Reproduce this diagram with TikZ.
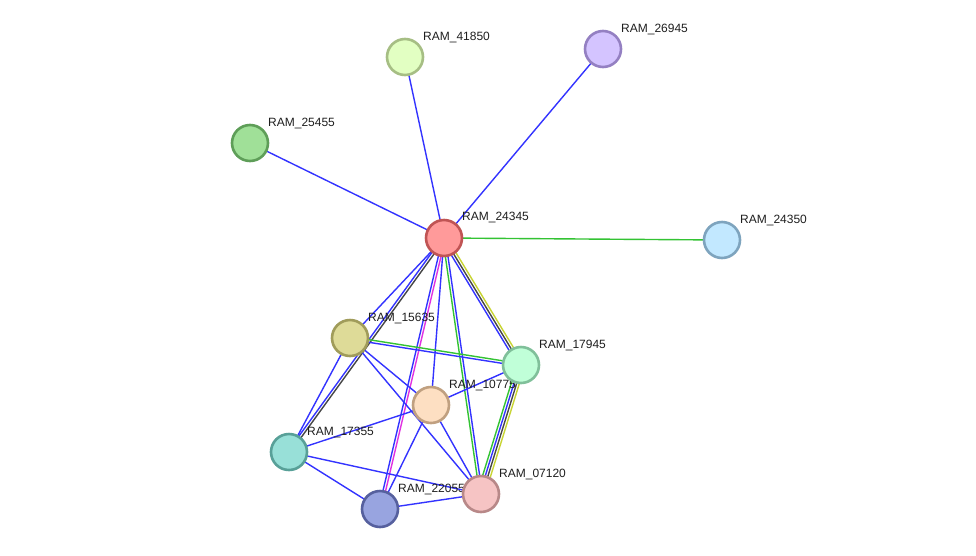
\documentclass[tikz,border=0pt]{standalone}
\usepackage{fontspec}
\setmainfont{Liberation Sans}
\usetikzlibrary{calc}
\pgfdeclarelayer{paper}
\pgfdeclarelayer{background}
\pgfdeclarelayer{labels}
\pgfsetlayers{paper,background,labels,main}
\definecolor{eblue}{RGB}{51,51,255}
\definecolor{egreen}{RGB}{51,195,51}
\definecolor{edark}{RGB}{70,70,70}
\definecolor{eyellow}{RGB}{200,212,50}
\definecolor{emag}{RGB}{225,50,225}
\definecolor{f24345}{HTML}{FF9A9A}\definecolor{b24345}{HTML}{C05454}
\definecolor{f41850}{HTML}{E2FFC2}\definecolor{b41850}{HTML}{A6BE84}
\definecolor{f26945}{HTML}{D4C4FF}\definecolor{b26945}{HTML}{9480C2}
\definecolor{f25455}{HTML}{A0E098}\definecolor{b25455}{HTML}{5E9E58}
\definecolor{f24350}{HTML}{C2E8FF}\definecolor{b24350}{HTML}{7EA4BE}
\definecolor{f15635}{HTML}{DEDB98}\definecolor{b15635}{HTML}{A09C5A}
\definecolor{f17945}{HTML}{C0FFD8}\definecolor{b17945}{HTML}{80C09A}
\definecolor{f10775}{HTML}{FDDFC2}\definecolor{b10775}{HTML}{C0A080}
\definecolor{f17355}{HTML}{98E0D8}\definecolor{b17355}{HTML}{58A098}
\definecolor{f22055}{HTML}{98A4E0}\definecolor{b22055}{HTML}{56609E}
\definecolor{f07120}{HTML}{F6C4C4}\definecolor{b07120}{HTML}{B88888}
\newcommand\edg[4]{\draw[#3] ($(#1)!#4!90:(#2)$) -- ($(#2)!#4!-90:(#1)$);}
\tikzset{
  prot/.style={circle, minimum size=36, inner sep=0, line width=2.6},
  lbl/.style={anchor=base west, inner sep=0, text=black!88, font=\fontsize{12}{14}\selectfont},
  edge/.style={line width=1.4}
}
\begin{document}
\begin{tikzpicture}[x=1pt,y=-1pt]
\begin{pgfonlayer}{paper}
\fill[white] (0,0) rectangle (976,555);
\end{pgfonlayer}
\useasboundingbox (0,0) rectangle (976,555);
% proteins
\node[prot, fill=f24345, draw=b24345] (p24345) at (444,238) {};
\node[prot, fill=f41850, draw=b41850] (p41850) at (405,57) {};
\node[prot, fill=f26945, draw=b26945] (p26945) at (603,49) {};
\node[prot, fill=f25455, draw=b25455] (p25455) at (250,143) {};
\node[prot, fill=f24350, draw=b24350] (p24350) at (722,240) {};
\node[prot, fill=f15635, draw=b15635] (p15635) at (350,338) {};
\node[prot, fill=f17945, draw=b17945] (p17945) at (521,365) {};
\node[prot, fill=f10775, draw=b10775] (p10775) at (431,405) {};
\node[prot, fill=f17355, draw=b17355] (p17355) at (289,452) {};
\node[prot, fill=f22055, draw=b22055] (p22055) at (380,509) {};
\node[prot, fill=f07120, draw=b07120] (p07120) at (481,494) {};
% labels
\begin{pgfonlayer}{labels}
\node[lbl] (l24345) at (462,220.5) {RAM\_24345};
\node[lbl] (l41850) at (423,40) {RAM\_41850};
\node[lbl] (l26945) at (621,32) {RAM\_26945};
\node[lbl] (l25455) at (268,126) {RAM\_25455};
\node[lbl] (l24350) at (740,223) {RAM\_24350};
\node[lbl] (l15635) at (368,321) {RAM\_15635};
\node[lbl] (l17945) at (539,348) {RAM\_17945};
\node[lbl] (l10775) at (449,388) {RAM\_10775};
\node[lbl] (l17355) at (307,435) {RAM\_17355};
\node[lbl] (l22055) at (398,492) {RAM\_22055};
\node[lbl] (l07120) at (499,477) {RAM\_07120};
\end{pgfonlayer}
% edges
\begin{pgfonlayer}{background}
\tikzset{every path/.style={edge}}
\edg{p24345}{p41850}{eblue}{0pt}
\edg{p24345}{p26945}{eblue}{0pt}
\edg{p24345}{p25455}{eblue}{0pt}
\edg{p24345}{p24350}{egreen}{0pt}
\edg{p24345}{p15635}{eblue}{0pt}
\edg{p24345}{p17355}{eblue}{-1.3pt}
\edg{p24345}{p17355}{edark}{1.3pt}
\edg{p24345}{p22055}{eblue}{-1.3pt}
\edg{p24345}{p22055}{emag}{1.3pt}
\edg{p24345}{p10775}{eblue}{0pt}
\edg{p24345}{p07120}{egreen}{-1.3pt}
\edg{p24345}{p07120}{eblue}{1.3pt}
\edg{p24345}{p17945}{eblue}{-2.6pt}
\edg{p24345}{p17945}{edark}{0pt}
\edg{p24345}{p17945}{eyellow}{2.6pt}
\edg{p17945}{p07120}{egreen}{-3.9pt}
\edg{p17945}{p07120}{eblue}{-1.3pt}
\edg{p17945}{p07120}{edark}{1.3pt}
\edg{p17945}{p07120}{eyellow}{3.9pt}
\edg{p15635}{p17945}{egreen}{1.3pt}
\edg{p15635}{p17945}{eblue}{-1.3pt}
\edg{p15635}{p10775}{eblue}{0pt}
\edg{p15635}{p07120}{eblue}{0pt}
\edg{p15635}{p17355}{eblue}{0pt}
\edg{p10775}{p17945}{eblue}{0pt}
\edg{p10775}{p17355}{eblue}{0pt}
\edg{p10775}{p22055}{eblue}{0pt}
\edg{p10775}{p07120}{eblue}{0pt}
\edg{p17355}{p07120}{eblue}{0pt}
\edg{p17355}{p22055}{eblue}{0pt}
\edg{p22055}{p07120}{eblue}{0pt}
\end{pgfonlayer}
\end{tikzpicture}
\end{document}
